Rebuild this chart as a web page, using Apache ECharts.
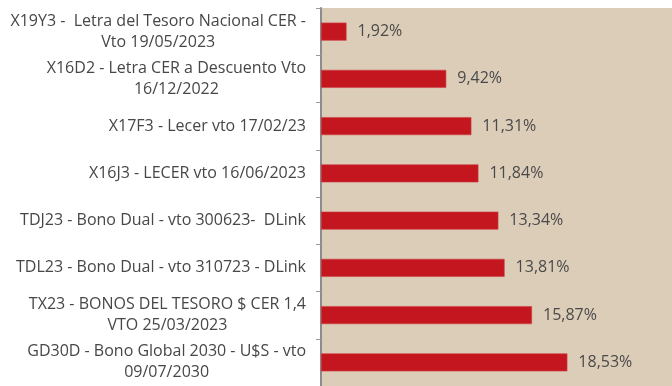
<!DOCTYPE html>
<html>
<head>
<meta charset="utf-8">
<style>
  html, body { margin: 0; padding: 0; background: #ffffff; }
  #chart { width: 672px; height: 386px; }
</style>
<script src="https://cdn.jsdelivr.net/npm/echarts@6/dist/echarts.min.js"></script>
</head>
<body>
<div id="chart"></div>
<script>
// Instruments, listed top to bottom
const categories = [
  'X19Y3 -  Letra del Tesoro Nacional CER -\nVto 19/05/2023',
  'X16D2 - Letra CER a Descuento Vto\n16/12/2022',
  'X17F3 - Lecer vto 17/02/23',
  'X16J3 - LECER vto 16/06/2023',
  'TDJ23 - Bono Dual - vto 300623-  DLink',
  'TDL23 - Bono Dual - vto 310723 - DLink',
  'TX23 - BONOS DEL TESORO $ CER 1,4\nVTO 25/03/2023',
  'GD30D - Bono Global 2030 - U$S - vto\n09/07/2030'
];

// Returns in percent
const values = [1.92, 9.42, 11.31, 11.84, 13.34, 13.81, 15.87, 18.53];

const fontFamily = '"Open Sans", "Noto Sans", sans-serif';
const fmtPct = v => v.toFixed(2).replace('.', ',') + '%';

const chart = echarts.init(document.getElementById('chart'), null, { renderer: 'canvas' });

chart.setOption({
  animation: false,
  grid: {
    left: 321,
    right: 0,
    top: 8,
    height: 384,
    show: true,
    backgroundColor: '#dccdb8',
    borderWidth: 0
  },
  xAxis: {
    type: 'value',
    min: 0,
    max: 26.4,
    show: false
  },
  yAxis: {
    type: 'category',
    data: categories,
    inverse: true,
    axisLine: { show: true, lineStyle: { color: '#8c8c8c', width: 2 } },
    axisTick: { show: true, inside: false, length: 5, lineStyle: { color: '#9a9a9a', width: 1 } },
    axisLabel: {
      margin: 15,
      formatter: v => '{c|' + v + '}',
      rich: {
        c: {
          align: 'center',
          color: '#474747',
          fontFamily: fontFamily,
          fontSize: 16,
          lineHeight: 21
        }
      }
    }
  },
  series: [{
    type: 'bar',
    data: values,
    barWidth: 18,
    itemStyle: {
      color: '#c3161e',
      borderColor: '#d04048',
      borderWidth: 0.6
    },
    label: {
      show: true,
      position: 'right',
      distance: 11,
      formatter: p => fmtPct(p.value),
      color: '#4a4a4a',
      fontFamily: fontFamily,
      fontSize: 16
    }
  }]
});
</script>
</body>
</html>
